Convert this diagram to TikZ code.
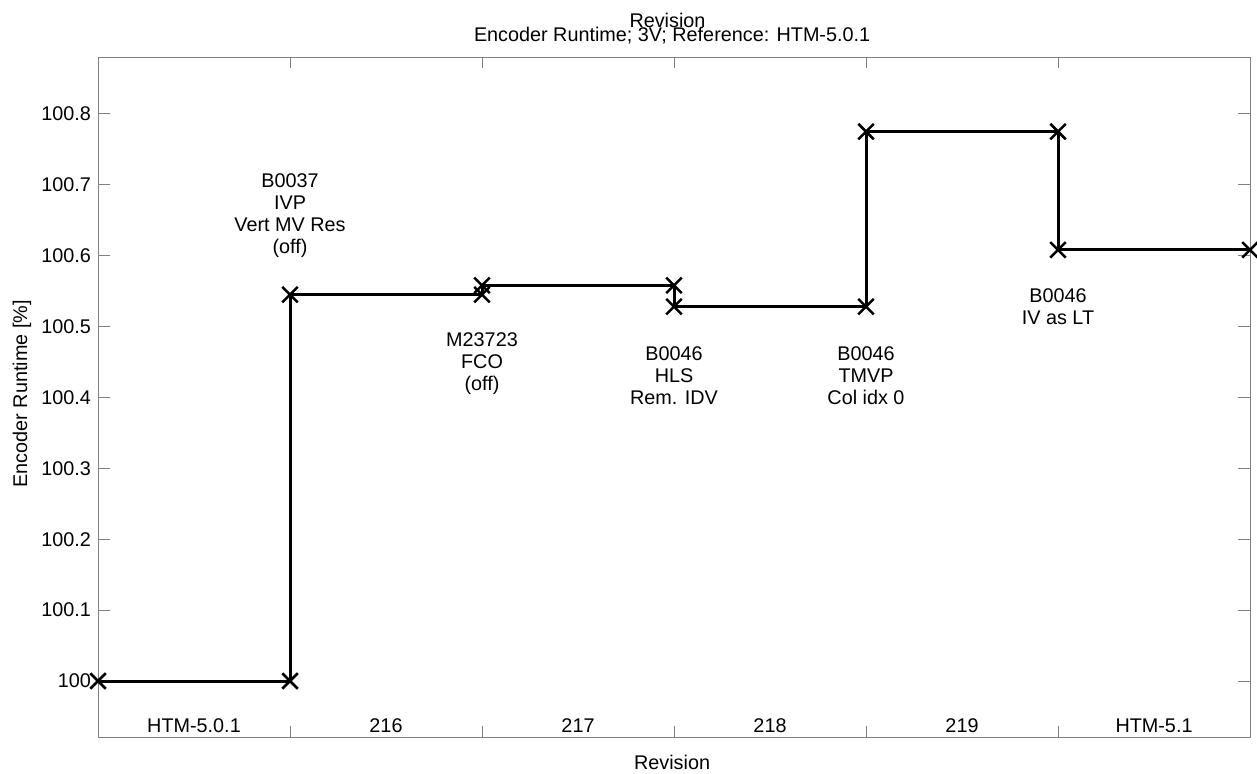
\documentclass[tikz,border=0pt]{standalone}
\usepackage{fontspec}
\setmainfont{Liberation Sans}
\usetikzlibrary{shapes.misc}
\begin{document}
\begin{tikzpicture}[x=192pt,y=709pt,
  every node/.style={font=\fontsize{19.8}{22}\selectfont, inner sep=0pt},
  axisline/.style={gray, line width=1pt},
  runline/.style={black, line width=3pt},
  crossmark/.style={cross out, draw=black, line width=2.5pt, minimum size=13pt},
  note/.style={align=center}]
\useasboundingbox (-0.51042,-0.12976) rectangle (6.03646,0.96051);
% axes box and ticks
\draw[axisline] (0,-0.079) rectangle (6,0.880);
\foreach \y/\t [count=\n] in {0/100,0.1/100.1,0.2/100.2,0.3/100.3,0.4/100.4,0.5/100.5,0.6/100.6,0.7/100.7,0.8/100.8}{
  \draw[axisline] (0,\y) -- ++(12pt,0);
  \draw[axisline] (6,\y) -- ++(-12pt,0);
  \node[anchor=east] (ylab\n) at ([xshift=-7pt]0,\y) {\t};
}
\foreach \x in {1,...,5}{
  \draw[axisline] (\x,-0.079) -- ++(0,11pt);
  \draw[axisline] (\x,0.880) -- ++(0,-11pt);
}
\foreach \t [count=\n] in {HTM-5.0.1,216,217,218,219,HTM-5.1}
  \node (xlab\n) at (\n-0.5,-0.0635) {\t};
% titles
\node (title) at (2.966,0.9323) {Revision};
\node (subtitle) at (2.99,0.911) {Encoder Runtime; 3V; Reference: HTM-5.0.1};
\node (xname) at (2.99,-0.1142) {Revision};
\node[rotate=90] (yname) at (-0.396,0.405) {Encoder Runtime [\%]};
% runtime steps
\foreach \x/\y [count=\n from 0] in {0/0,1/0,1/0.545,2/0.545,2/0.558,3/0.558,3/0.528,4/0.528,4/0.775,5/0.775,5/0.608,6/0.608}
  \coordinate (p\n) at (\x,\y);
\draw[runline] (p0) -- (p1) -- (p2) -- (p3) -- (p4) -- (p5) -- (p6) -- (p7) -- (p8) -- (p9) -- (p10) -- (p11);
\foreach \n in {0,...,11}
  \node[crossmark] (m\n) at (p\n) {};
% change notes
\node[note] (b0037) at (1,0.657) {B0037\\IVP\\Vert MV Res\\(off)};
\node[note] (m23723) at (2,0.447) {M23723\\FCO\\(off)};
\node[note] (hls) at (3,0.430) {B0046\\HLS\\Rem. IDV};
\node[note] (tmvp) at (4,0.430) {B0046\\TMVP\\Col idx 0};
\node[note] (ivlt) at (5,0.528) {B0046\\IV as LT};
\end{tikzpicture}
\end{document}
